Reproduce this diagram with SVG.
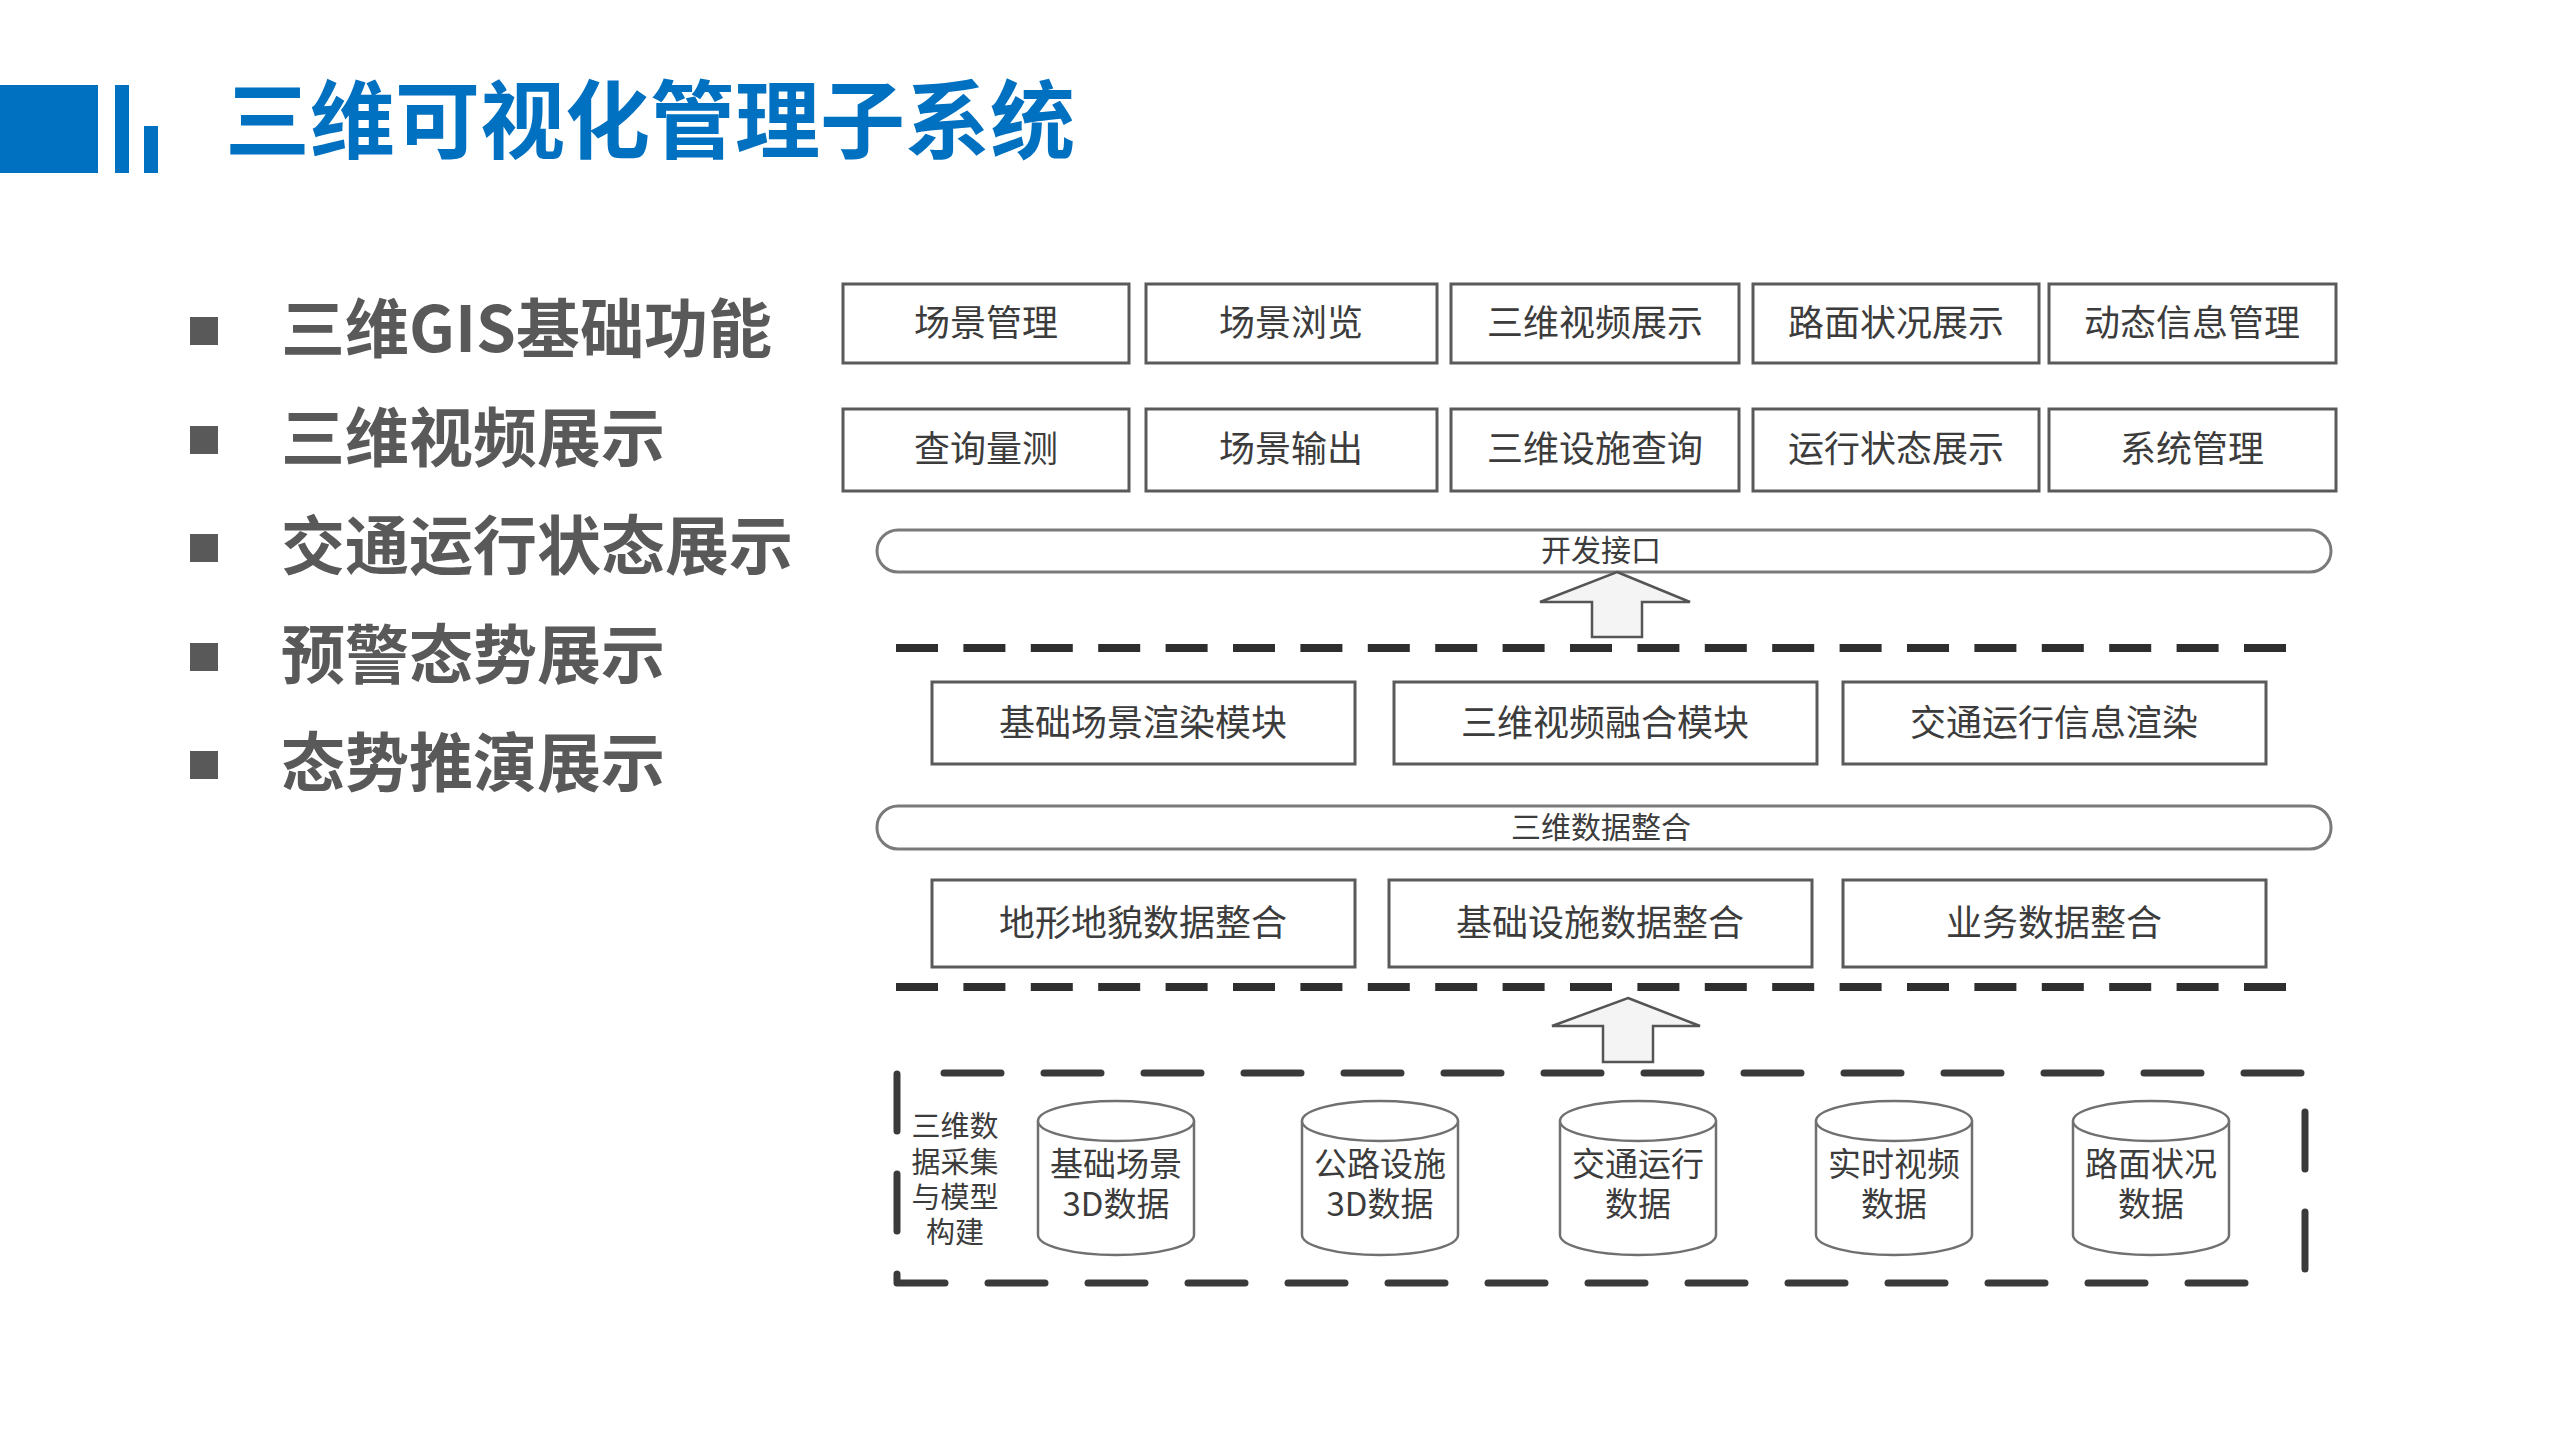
<svg xmlns="http://www.w3.org/2000/svg" width="2560" height="1440" viewBox="0 0 2560 1440">
  <defs>
    <style>
      .title { font-family: "Noto Sans CJK SC", "Noto Sans", sans-serif; font-weight: 700; font-size: 85px; fill: #0070C0; }
      .bul { fill: #595959; }
      .btxt { font-family: "Noto Sans CJK SC", "Noto Sans", sans-serif; font-weight: 700; font-size: 64px; fill: #595959; }
      .box { fill: #ffffff; stroke: #5a5a5a; stroke-width: 3; }
      .pill { fill: #ffffff; stroke: #7a7a7a; stroke-width: 3; }
      .lbl { font-family: "Noto Sans CJK SC", "Noto Sans", sans-serif; font-size: 36px; fill: #3c3c3c; text-anchor: middle; dominant-baseline: central; }
      .plbl { font-family: "Noto Sans CJK SC", "Noto Sans", sans-serif; font-size: 30px; fill: #3c3c3c; text-anchor: middle; dominant-baseline: central; }
      .clbl { font-family: "Noto Sans CJK SC", "Noto Sans", sans-serif; font-size: 33px; fill: #3c3c3c; text-anchor: middle; dominant-baseline: central; }
      .llbl { font-family: "Noto Sans CJK SC", "Noto Sans", sans-serif; font-size: 29px; fill: #3c3c3c; text-anchor: middle; dominant-baseline: central; }
      .cyl { fill: #ffffff; stroke: #707070; stroke-width: 2.5; }
      .sep { fill: none; stroke: #2e2e2e; stroke-width: 8; stroke-dasharray: 42 25.4; }
      .frame { fill: none; stroke: #3a3a3a; stroke-width: 7; stroke-dasharray: 57 43; stroke-linecap: round; stroke-linejoin: round; }
      .arrow { fill: #f4f4f4; stroke: #555555; stroke-width: 2.5; stroke-linejoin: miter; }
    </style>
  </defs>
  <rect width="2560" height="1440" fill="#ffffff"/>

  <!-- Title -->
  <g id="title">
    <rect x="0" y="85" width="98" height="88" fill="#0070C0"/>
    <rect x="115" y="85" width="14" height="88" fill="#0070C0"/>
    <rect x="144" y="126" width="14" height="47" fill="#0070C0"/>
    <text class="title" x="225" y="152">三维可视化管理子系统</text>
  </g>

  <!-- Bullet list -->
  <g id="bullets">
    <rect class="bul" x="190" y="317" width="28" height="28"/>
    <text class="btxt" x="281" y="352">三维GIS基础功能</text>
    <rect class="bul" x="190" y="426" width="28" height="28"/>
    <text class="btxt" x="281" y="461">三维视频展示</text>
    <rect class="bul" x="190" y="534" width="28" height="28"/>
    <text class="btxt" x="281" y="569">交通运行状态展示</text>
    <rect class="bul" x="190" y="643" width="28" height="28"/>
    <text class="btxt" x="281" y="678">预警态势展示</text>
    <rect class="bul" x="190" y="751" width="28" height="28"/>
    <text class="btxt" x="281" y="786">态势推演展示</text>
  </g>

  <!-- Top function row 1 -->
  <g id="n-cjgl"><rect class="box" x="843" y="284" width="286" height="79"/><text class="lbl" x="986" y="320">场景管理</text></g>
  <g id="n-cjll"><rect class="box" x="1146" y="284" width="291" height="79"/><text class="lbl" x="1291" y="320">场景浏览</text></g>
  <g id="n-swspzs"><rect class="box" x="1451" y="284" width="288" height="79"/><text class="lbl" x="1595" y="320">三维视频展示</text></g>
  <g id="n-lmzkzs"><rect class="box" x="1753" y="284" width="286" height="79"/><text class="lbl" x="1896" y="320">路面状况展示</text></g>
  <g id="n-dtxxgl"><rect class="box" x="2049" y="284" width="287" height="79"/><text class="lbl" x="2192" y="320">动态信息管理</text></g>

  <!-- Top function row 2 -->
  <g id="n-cxlc"><rect class="box" x="843" y="409" width="286" height="82"/><text class="lbl" x="986" y="446">查询量测</text></g>
  <g id="n-cjsc"><rect class="box" x="1146" y="409" width="291" height="82"/><text class="lbl" x="1291" y="446">场景输出</text></g>
  <g id="n-swsscx"><rect class="box" x="1451" y="409" width="288" height="82"/><text class="lbl" x="1595" y="446">三维设施查询</text></g>
  <g id="n-yxztzs"><rect class="box" x="1753" y="409" width="286" height="82"/><text class="lbl" x="1896" y="446">运行状态展示</text></g>
  <g id="n-xtgl"><rect class="box" x="2049" y="409" width="287" height="82"/><text class="lbl" x="2192" y="446">系统管理</text></g>

  <!-- Development interface bar -->
  <g id="n-kfjk"><rect class="pill" x="877" y="530" width="1454" height="42" rx="21" ry="21"/><text class="plbl" x="1601" y="548">开发接口</text></g>

  <!-- Module row -->
  <g id="n-jccjxr"><rect class="box" x="932" y="682" width="423" height="82"/><text class="lbl" x="1143" y="720">基础场景渲染模块</text></g>
  <g id="n-swsprh"><rect class="box" x="1394" y="682" width="423" height="82"/><text class="lbl" x="1605" y="720">三维视频融合模块</text></g>
  <g id="n-jtyxxr"><rect class="box" x="1843" y="682" width="423" height="82"/><text class="lbl" x="2054" y="720">交通运行信息渲染</text></g>

  <!-- Data integration bar -->
  <g id="n-swsjzh"><rect class="pill" x="877" y="806" width="1454" height="43" rx="21" ry="21"/><text class="plbl" x="1601" y="825">三维数据整合</text></g>

  <!-- Data integration row -->
  <g id="n-dxdm"><rect class="box" x="932" y="880" width="423" height="87"/><text class="lbl" x="1143" y="920">地形地貌数据整合</text></g>
  <g id="n-jcss"><rect class="box" x="1389" y="880" width="423" height="87"/><text class="lbl" x="1600" y="920">基础设施数据整合</text></g>
  <g id="n-ywsj"><rect class="box" x="1843" y="880" width="423" height="87"/><text class="lbl" x="2054" y="920">业务数据整合</text></g>

  <!-- Data collection container -->
  <g id="n-cjjg">
    <path class="frame" d="M 897 1074 V 1283 H 2268"/>
    <path class="frame" d="M 944 1073 H 2305 V 1283"/>
    <text class="llbl" x="955" y="1124">三维数</text>
    <text class="llbl" x="955" y="1160">据采集</text>
    <text class="llbl" x="955" y="1195">与模型</text>
    <text class="llbl" x="955" y="1230">构建</text>
  </g>

  <!-- Cylinders -->
  <g id="n-db1">
    <path class="cyl" d="M 1038 1121 V 1235 A 78 20 0 0 0 1194 1235 V 1121"/>
    <ellipse class="cyl" cx="1116" cy="1121" rx="78" ry="20"/>
    <text class="clbl" x="1116" y="1162">基础场景</text>
    <text class="clbl" x="1116" y="1202">3D数据</text>
  </g>
  <g id="n-db2">
    <path class="cyl" d="M 1302 1121 V 1235 A 78 20 0 0 0 1458 1235 V 1121"/>
    <ellipse class="cyl" cx="1380" cy="1121" rx="78" ry="20"/>
    <text class="clbl" x="1380" y="1162">公路设施</text>
    <text class="clbl" x="1380" y="1202">3D数据</text>
  </g>
  <g id="n-db3">
    <path class="cyl" d="M 1560 1121 V 1235 A 78 20 0 0 0 1716 1235 V 1121"/>
    <ellipse class="cyl" cx="1638" cy="1121" rx="78" ry="20"/>
    <text class="clbl" x="1638" y="1162">交通运行</text>
    <text class="clbl" x="1638" y="1202">数据</text>
  </g>
  <g id="n-db4">
    <path class="cyl" d="M 1816 1121 V 1235 A 78 20 0 0 0 1972 1235 V 1121"/>
    <ellipse class="cyl" cx="1894" cy="1121" rx="78" ry="20"/>
    <text class="clbl" x="1894" y="1162">实时视频</text>
    <text class="clbl" x="1894" y="1202">数据</text>
  </g>
  <g id="n-db5">
    <path class="cyl" d="M 2073 1121 V 1235 A 78 20 0 0 0 2229 1235 V 1121"/>
    <ellipse class="cyl" cx="2151" cy="1121" rx="78" ry="20"/>
    <text class="clbl" x="2151" y="1162">路面状况</text>
    <text class="clbl" x="2151" y="1202">数据</text>
  </g>

  <!-- Connectors: separators and block arrows -->
  <g id="connectors">
    <line class="sep" x1="896" y1="648" x2="2286" y2="648"/>
    <line class="sep" x1="896" y1="987" x2="2286" y2="987"/>
    <path class="arrow" d="M 1617 572 L 1690 602 L 1642 602 L 1642 637 L 1592 637 L 1592 602 L 1540 602 Z"/>
    <path class="arrow" d="M 1628 998 L 1700 1026 L 1653 1026 L 1653 1062 L 1603 1062 L 1603 1026 L 1552 1026 Z"/>
  </g>
</svg>
